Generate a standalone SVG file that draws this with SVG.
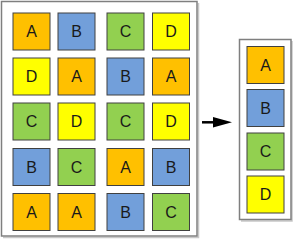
<svg xmlns="http://www.w3.org/2000/svg" width="293" height="240" viewBox="0 0 293 240">
<style>
.frame{fill:#fff;stroke:#7f7f7f;stroke-width:1.5}
.shadow{fill:none;stroke:#c8c8c8;stroke-width:1.5}
.sq{stroke:#404040;stroke-width:1}
.a{fill:#ffc000}.b{fill:#729fda}.c{fill:#92d050}.d{fill:#ffff00}
text{font-family:"Liberation Sans",Arial,sans-serif;font-size:16px;fill:#1a1a1a;text-anchor:middle;dominant-baseline:central}
</style>
<g id="source">
<path class="shadow" d="M198.5,3 V237.5 H3"/>
<rect class="frame" x="1.5" y="1.5" width="195.5" height="234.5"/>
</g>
<g id="target">
<path class="shadow" d="M292,41 V221 H241"/>
<rect class="frame" x="239.5" y="39.5" width="51.5" height="180"/>
</g>
<g id="grid">
<g id="r1c1"><rect class="sq a" x="13" y="13" width="37" height="37"/><text x="31.5" y="31.5">A</text></g>
<g id="r1c2"><rect class="sq b" x="58" y="13" width="37" height="37"/><text x="76.5" y="31.5">B</text></g>
<g id="r1c3"><rect class="sq c" x="107" y="13" width="37" height="37"/><text x="125.5" y="31.5">C</text></g>
<g id="r1c4"><rect class="sq d" x="152.5" y="13" width="37" height="37"/><text x="171" y="31.5">D</text></g>
<g id="r2c1"><rect class="sq d" x="13" y="58" width="37" height="37"/><text x="31.5" y="76.5">D</text></g>
<g id="r2c2"><rect class="sq a" x="58" y="58" width="37" height="37"/><text x="76.5" y="76.5">A</text></g>
<g id="r2c3"><rect class="sq b" x="107" y="58" width="37" height="37"/><text x="125.5" y="76.5">B</text></g>
<g id="r2c4"><rect class="sq a" x="152.5" y="58" width="37" height="37"/><text x="171" y="76.5">A</text></g>
<g id="r3c1"><rect class="sq c" x="13" y="103" width="37" height="37"/><text x="31.5" y="121.5">C</text></g>
<g id="r3c2"><rect class="sq d" x="58" y="103" width="37" height="37"/><text x="76.5" y="121.5">D</text></g>
<g id="r3c3"><rect class="sq c" x="107" y="103" width="37" height="37"/><text x="125.5" y="121.5">C</text></g>
<g id="r3c4"><rect class="sq d" x="152.5" y="103" width="37" height="37"/><text x="171" y="121.5">D</text></g>
<g id="r4c1"><rect class="sq b" x="13" y="148.5" width="37" height="37"/><text x="31.5" y="167">B</text></g>
<g id="r4c2"><rect class="sq c" x="58" y="148.5" width="37" height="37"/><text x="76.5" y="167">C</text></g>
<g id="r4c3"><rect class="sq a" x="107" y="148.5" width="37" height="37"/><text x="125.5" y="167">A</text></g>
<g id="r4c4"><rect class="sq b" x="152.5" y="148.5" width="37" height="37"/><text x="171" y="167">B</text></g>
<g id="r5c1"><rect class="sq a" x="13" y="193.5" width="37" height="37"/><text x="31.5" y="212">A</text></g>
<g id="r5c2"><rect class="sq a" x="58" y="193.5" width="37" height="37"/><text x="76.5" y="212">A</text></g>
<g id="r5c3"><rect class="sq b" x="107" y="193.5" width="37" height="37"/><text x="125.5" y="212">B</text></g>
<g id="r5c4"><rect class="sq c" x="152.5" y="193.5" width="37" height="37"/><text x="171" y="212">C</text></g>
</g>
<g id="result">
<g id="tA"><rect class="sq a" x="247" y="46.5" width="37" height="37"/><text x="265.5" y="65">A</text></g>
<g id="tB"><rect class="sq b" x="247" y="89.5" width="37" height="37"/><text x="265.5" y="108">B</text></g>
<g id="tC"><rect class="sq c" x="247" y="133" width="37" height="37"/><text x="265.5" y="151.5">C</text></g>
<g id="tD"><rect class="sq d" x="247" y="176" width="37" height="37"/><text x="265.5" y="194.5">D</text></g>
</g>
<g id="connectors">
<line x1="202" y1="122.3" x2="214" y2="122.3" stroke="#000" stroke-width="2.5"/>
<path d="M213,117 L232,122.3 L213,127.5 Z" fill="#000"/>
</g>
</svg>
